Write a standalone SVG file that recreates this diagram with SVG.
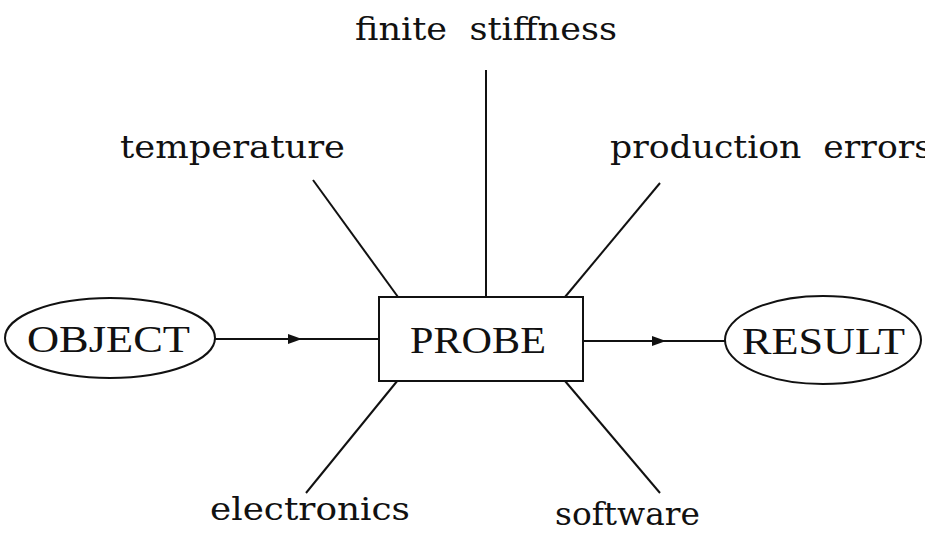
<svg xmlns="http://www.w3.org/2000/svg" width="925" height="540" viewBox="0 0 925 540">
<defs>
<style>
.lbl{font-family:"DejaVu Serif","Liberation Serif",serif;font-size:31px;fill:#111}
.nd{font-family:"Liberation Serif","DejaVu Serif",serif;font-size:38px;fill:#111}
.ln{stroke:#111;stroke-width:2;fill:none}
.sh{stroke:#111;stroke-width:2;fill:#fff}
</style>
<marker id="ah" viewBox="0 0 14 10" refX="14" refY="5" markerWidth="14" markerHeight="10" markerUnits="userSpaceOnUse" orient="auto">
<path d="M0,0 L14,5 L0,10 Z" fill="#111"/>
</marker>
</defs>
<rect width="925" height="540" fill="#fff"/>
<g id="connectors">
<path class="ln" d="M215,339 H302" marker-end="url(#ah)"/>
<path class="ln" d="M300,339 H379"/>
<path class="ln" d="M583,341 H666" marker-end="url(#ah)"/>
<path class="ln" d="M664,341 H725"/>
<line class="ln" x1="486" y1="70" x2="486" y2="297"/>
<line class="ln" x1="313" y1="180" x2="398" y2="297"/>
<line class="ln" x1="660" y1="183" x2="565" y2="297"/>
<line class="ln" x1="398" y1="380" x2="306" y2="493"/>
<line class="ln" x1="565" y1="381" x2="660" y2="493"/>
</g>
<g id="object">
<ellipse class="sh" cx="110" cy="338" rx="105" ry="40"/>
<text class="nd" x="27" y="352" textLength="163" lengthAdjust="spacingAndGlyphs">OBJECT</text>
</g>
<g id="probe">
<rect class="sh" x="379" y="297" width="204" height="84"/>
<text class="nd" x="410" y="353" textLength="136" lengthAdjust="spacingAndGlyphs">PROBE</text>
</g>
<g id="result">
<ellipse class="sh" cx="823" cy="340" rx="98" ry="44"/>
<text class="nd" x="742" y="354" textLength="163" lengthAdjust="spacingAndGlyphs">RESULT</text>
</g>
<g id="finite-stiffness"><text class="lbl" x="355" y="40" textLength="262" lengthAdjust="spacingAndGlyphs" xml:space="preserve">finite  stiffness</text></g>
<g id="temperature"><text class="lbl" x="120" y="158" textLength="225" lengthAdjust="spacingAndGlyphs">temperature</text></g>
<g id="production-errors"><text class="lbl" x="610" y="158" textLength="322" lengthAdjust="spacingAndGlyphs" xml:space="preserve">production  errors</text></g>
<g id="electronics"><text class="lbl" x="210" y="520" textLength="200" lengthAdjust="spacingAndGlyphs">electronics</text></g>
<g id="software"><text class="lbl" x="555" y="525" textLength="145" lengthAdjust="spacingAndGlyphs">software</text></g>
</svg>
